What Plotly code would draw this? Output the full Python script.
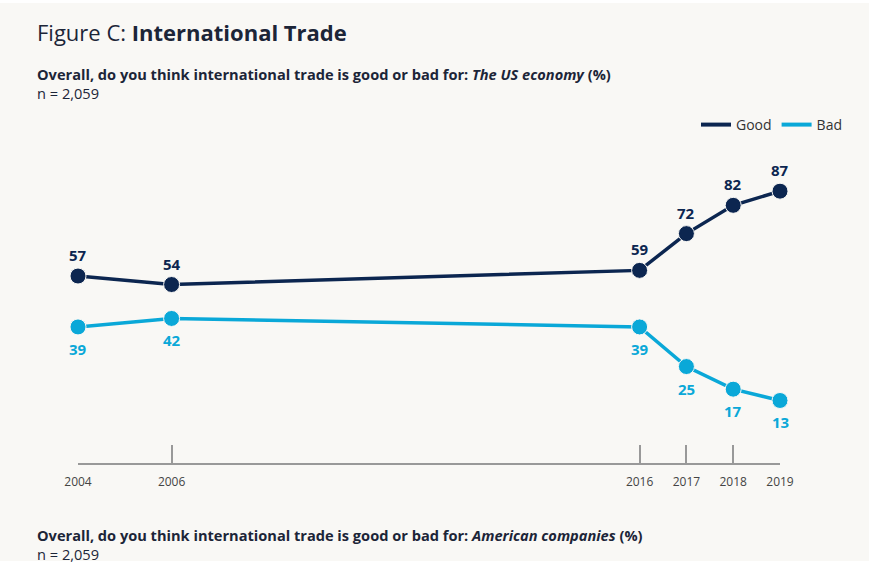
import plotly.graph_objects as go

# Survey years and shares (%) answering "good" / "bad"
years = [2004, 2006, 2016, 2017, 2018, 2019]
good = [57, 54, 59, 72, 82, 87]
bad = [39, 42, 39, 25, 17, 13]
tick_labels = ["2004", "2006", "2016", "2017", "2018", "2019"]

NAVY = "#0c2650"
BLUE = "#0aa8d8"
BG = "#f9f8f5"
TEXT = "#1c2538"
FONT = "Open Sans"

fig = go.Figure()

for name, vals, color in [("Good", good, NAVY), ("Bad", bad, BLUE)]:
    fig.add_trace(go.Scatter(
        x=years, y=vals, mode="lines+markers", name=name,
        line=dict(color=color, width=3.5),
        marker=dict(size=16, color=color, line=dict(color=BG, width=1)),
        showlegend=False, cliponaxis=False, hoverinfo="x+y",
    ))
    # legend-only line entries
    fig.add_trace(go.Scatter(
        x=[None], y=[None], mode="lines", name=name,
        line=dict(color=color, width=4), showlegend=True,
    ))

# value labels: Good above the points, Bad below
for x, g, b in zip(years, good, bad):
    fig.add_annotation(x=x, y=g, text=f"<b>{g}</b>", showarrow=False,
                       yshift=21, font=dict(family=FONT, size=15, color=NAVY))
    fig.add_annotation(x=x, y=b, text=f"<b>{b}</b>", showarrow=False,
                       yshift=-22, font=dict(family=FONT, size=15, color=BLUE))


def px_x(p):
    return (p - 78) / 702


def px_y(p):
    return (463 - p) / 353


# page panel
fig.add_shape(type="rect", xref="paper", yref="paper",
              x0=px_x(0), x1=px_x(869), y0=px_y(561), y1=px_y(3),
              fillcolor=BG, line=dict(width=0), layer="below")

fig.add_annotation(xref="paper", yref="paper", x=px_x(35), y=px_y(32),
                   xanchor="left", yanchor="middle", showarrow=False,
                   text="Figure C: <b>International Trade</b>",
                   font=dict(family=FONT, size=22, color=TEXT))

# question heading with sample size on the line below
sub = ("<b>Overall, do you think international trade is good or bad for: "
       "<i>{}</i> (%)</b><br>n = 2,059")
for label, yc in [("The US economy", 83), ("American companies", 544)]:
    fig.add_annotation(xref="paper", yref="paper", x=px_x(35), y=px_y(yc),
                       xanchor="left", yanchor="middle", align="left",
                       showarrow=False, text=sub.format(label),
                       font=dict(family=FONT, size=14.6, color=TEXT))

fig.update_layout(
    width=869, height=564,
    margin=dict(l=78, r=89, t=110, b=101),
    paper_bgcolor="white", plot_bgcolor=BG,
    font=dict(family=FONT, color=TEXT),
    legend=dict(orientation="h", x=px_x(847), xanchor="right",
                y=px_y(125), yanchor="middle",
                bgcolor="rgba(0,0,0,0)", font=dict(size=14, color="#333"),
                itemwidth=30, tracegroupgap=0),
    xaxis=dict(range=[2004, 2019], tickvals=years, ticktext=tick_labels,
               showgrid=False, zeroline=False, showline=True,
               linecolor="#999999", linewidth=1.5,
               ticks="inside", ticklen=18, tickwidth=1.5, tickcolor="#999999",
               tickfont=dict(size=12, color="#444444"), ticklabelstandoff=7,
               fixedrange=True),
    yaxis=dict(range=[-9.1, 115.7], visible=False, fixedrange=True),
)

fig.write_html("out.html")
